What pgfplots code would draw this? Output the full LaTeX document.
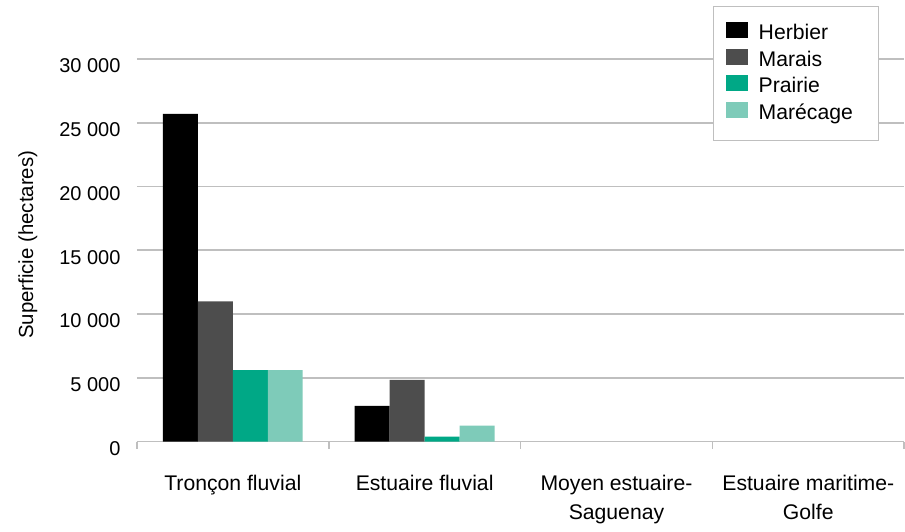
\documentclass[border=0pt]{standalone}
\usepackage{fontspec}
\setmainfont{Liberation Sans}
\usepackage{pgfplots}
\pgfplotsset{compat=1.18}
\definecolor{herbier}{HTML}{000000}
\definecolor{marais}{HTML}{4D4D4D}
\definecolor{prairie}{HTML}{00A886}
\definecolor{marecage}{HTML}{7ECBB9}
\definecolor{grille}{HTML}{BFBFBF}

\pgfplotsset{
  barre/.style={fill=#1, draw=none,
    legend image code/.code={\fill[#1] (0pt,-2.3pt) rectangle (11pt,5.7pt);}},
}
\newcommand{\entree}[1]{\hspace*{3.5pt}\makebox[52pt][l]{#1}}

\begin{document}
\fontsize{10.6}{14.5}\selectfont
\begin{tikzpicture}[font=\fontsize{10.6}{14.5}\selectfont]
\begin{axis}[
  name=ax,
  scale only axis,
  width=384pt, height=191.5pt,
  ybar=0pt, bar width=17.5pt,
  xmin=-0.5, xmax=3.5,
  ymin=0, ymax=30000,
  axis x line*=bottom,
  axis y line*=left,
  x axis line style={grille, line width=0.8pt, -},
  y axis line style={draw=none},
  xtick={0,1,2,3},
  xticklabels={Tronçon fluvial, Estuaire fluvial, {Moyen estuaire-\\Saguenay}, {Estuaire maritime-\\Golfe}},
  xticklabel style={align=center, yshift=-9pt},
  major x tick style={draw=none},
  minor xtick={-0.5,0.5,1.5,2.5,3.5},
  minor tick length=3.5pt,
  tick align=outside,
  minor x tick style={grille, line width=0.8pt},
  ytick={0,5000,...,30000},
  scaled y ticks=false,
  yticklabel style={font=\fontsize{10}{12}\selectfont, xshift=-0.2pt, yshift=-3.5pt,
    /pgf/number format/.cd, 1000 sep={\ }, assume math mode=true},
  major y tick style={draw=none},
  ymajorgrids,
  major grid style={grille, line width=0.8pt},
  ylabel={Superficie (hectares)},
  every axis y label/.style={at={(rel axis cs:0,0.5)}, xshift=-54.5pt, yshift=2.75pt, rotate=90, anchor=center,
    font=\fontsize{10.2}{12}\selectfont},
  legend style={at={(rel axis cs:0.9674,1.1384)}, anchor=north east,
    draw=grille, line width=0.6pt, fill=white,
    inner xsep=6pt, inner ysep=7pt, row sep=-0.1pt,
    cells={anchor=west}},
]
\addplot[barre=herbier] coordinates {(0,25700) (1,2800)};
\addlegendentry{\entree{Herbier}}
\addplot[barre=marais] coordinates {(0,11000) (1,4850)};
\addlegendentry{\entree{Marais}}
\addplot[barre=prairie] coordinates {(0,5600) (1,400)};
\addlegendentry{\entree{Prairie}}
\addplot[barre=marecage] coordinates {(0,5600) (1,1250)};
\addlegendentry{\entree{Marécage}}
\end{axis}
\path (ax.south west) ++(-68.5pt,-41.5pt) coordinate (bl);
\path (ax.north east) ++(0pt,29.5pt) coordinate (tr);
\path (bl) rectangle (tr);
\end{tikzpicture}
\end{document}
